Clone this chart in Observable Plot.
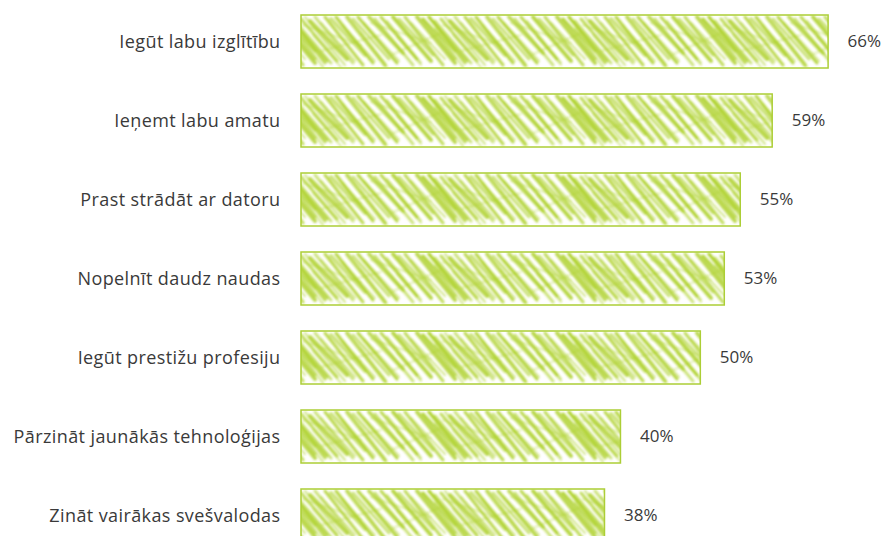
<!DOCTYPE html>
<html>
<head>
<meta charset="utf-8">
<script src="https://cdn.jsdelivr.net/npm/d3@7"></script>
<script src="https://cdn.jsdelivr.net/npm/@observablehq/plot@0.6"></script>
<style>
  html, body { margin: 0; padding: 0; background: #fff; overflow: hidden; }
</style>
</head>
<body>
<div id="chart"></div>
<script>
const categories = [
  "Iegūt labu izglītību",
  "Ieņemt labu amatu",
  "Prast strādāt ar datoru",
  "Nopelnīt daudz naudas",
  "Iegūt prestižu profesiju",
  "Pārzināt jaunākās tehnoloģijas",
  "Zināt vairākas svešvalodas"
];
const values = [66, 59, 55, 53, 50, 40, 38];

const data = categories.map((c, i) => ({label: c, value: values[i]}));

const font = "'Open Sans', sans-serif";

const plot = Plot.plot({
  width: 888,
  height: 536,
  marginLeft: 301,
  marginRight: 0,
  marginTop: 15,
  marginBottom: 0,
  style: {fontFamily: font, background: "#fff"},
  x: {domain: [0, 73.5], axis: null},
  y: {domain: categories, range: [15, 542], paddingInner: 0.33, paddingOuter: 0, axis: null},
  marks: [
    Plot.barX(data, {x: "value", y: "label", fill: "url(#scribble)", stroke: "#acce36", strokeWidth: 1.5}),
    Plot.axisY({tickSize: 0, tickPadding: 21, fontSize: 18, color: "#3a3a3a", label: null}),
    Plot.text(data, {x: "value", y: "label", text: d => d.value + "%", textAnchor: "start", dx: 19, fontSize: 17, fill: "#3a3a3a"})
  ]
});

// hand-drawn scribble strokes for the fill pattern: x1,y1,x2,y2,opacity,width
const strokes = [
  [0,4,36,46,0.75,3],[4,2,44,50,0.55,2],[9,6,46,44,0.8,4],[14,2,52,48,0.6,3],
  [20,8,54,46,0.5,2],[24,2,62,50,0.8,3],[30,4,64,40,0.6,4],[35,2,72,48,0.85,3],
  [41,10,74,46,0.45,2],[46,2,84,50,0.75,4],[52,4,88,44,0.6,3],[57,2,96,48,0.85,3],
  [63,8,98,46,0.5,2],[68,2,102,38,0.75,4],[74,4,112,50,0.6,3],[80,2,116,44,0.8,3],
  [86,6,120,48,0.55,2],[92,2,130,46,0.85,4],[98,4,132,40,0.6,3],[104,2,142,50,0.75,3],
  [110,8,144,44,0.5,2],[116,2,154,48,0.8,4],[122,4,154,36,0.6,3],[128,2,166,46,0.75,3],
  [134,6,170,48,0.6,3],
  [-6,14,22,52,0.55,2],[-12,2,24,48,0.75,3],[-18,4,14,44,0.7,3],
  [12,20,40,52,0.4,2],[60,18,86,52,0.4,2],[96,22,120,50,0.4,2],
  [2,10,60,30,0.35,2],[70,8,130,28,0.35,2],[20,36,80,20,0.3,2],[90,40,140,18,0.3,2]
];
const W = 140;
const lines = strokes.map(s => `<line x1="${s[0]}" y1="${s[1]}" x2="${s[2]}" y2="${s[3]}" stroke="#acd026" stroke-opacity="${s[4]}" stroke-width="${s[5]}" stroke-linecap="round"/>`).join("");
const dsel = d3.select(plot).insert("defs", ":first-child");
dsel.html(`<filter id="soft" x="-10%" y="-10%" width="120%" height="120%"><feGaussianBlur stdDeviation="0.8"/></filter>
<pattern id="scribble" patternUnits="userSpaceOnUse" x="301" y="15" width="${W}" height="79">
  <rect width="${W}" height="79" fill="#fff"/>
  <g filter="url(#soft)">
    <g>${lines}</g>
    <g transform="translate(${W},0)">${lines}</g>
    <g transform="translate(${-W},0)">${lines}</g>
  </g>
</pattern>`);

d3.select(plot).selectAll("g[aria-label='y-axis tick label'] text").style("letter-spacing", "0.4px");

document.getElementById("chart").appendChild(plot);
</script>
</body>
</html>
